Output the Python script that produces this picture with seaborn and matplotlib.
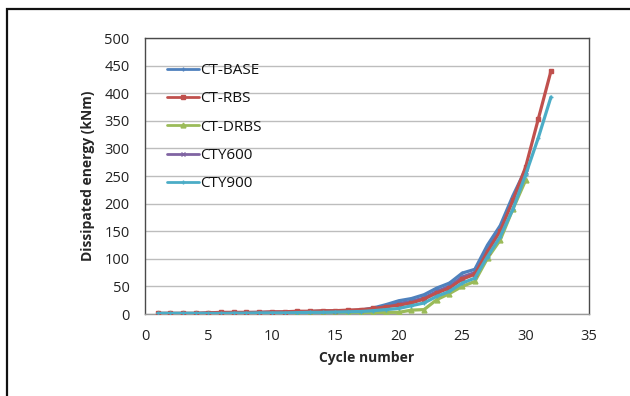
import numpy as np
import pandas as pd
import matplotlib
matplotlib.use("Agg")
import matplotlib.pyplot as plt
import seaborn as sns
from matplotlib.patches import Rectangle

cycles_long = list(range(1, 33))
cycles_short = list(range(1, 31))

ct_base = [1, 1, 1, 1, 1.5, 2, 2, 2.5, 3, 3, 3.5, 4, 4.5, 5, 5.5, 6, 7, 11, 17,
           24, 28, 35, 47, 56, 74, 81, 125, 160, 214, 262]
ct_rbs = [1, 1, 1, 1, 2, 3, 3, 3, 3, 4, 4, 5, 5, 6, 6, 7, 8, 10, 13,
          16, 20, 27, 38, 47, 63, 72, 113, 150, 206, 266, 353, 440]
ct_drbs = [1, 1, 1, 1, 1, 1, 1, 1, 1, 1, 1, 1.5, 1.5, 2, 2, 2, 2, 2.5, 3,
           3, 7, 8, 26, 37, 50, 59, 101, 134, 190, 242]
cty600 = [1, 1, 1, 1, 1.5, 2, 2, 2, 2.5, 3, 3, 3.5, 4, 4.5, 5, 5.5, 6, 9, 14,
          19, 23, 29, 41, 50, 67, 75, 116, 155, 208, 258]
cty900 = [1, 1, 1, 1, 1, 1, 1.5, 1.5, 2, 2, 2, 2.5, 3, 3, 3.5, 4, 4.5, 6, 8,
          10, 15, 20, 32, 41, 56, 65, 104, 140, 190, 252, 319, 393]

series_names = ["CT-BASE", "CT-RBS", "CT-DRBS", "CTY600", "CTY900"]
series_x = [cycles_short, cycles_long, cycles_short, cycles_short, cycles_long]
series_y = [ct_base, ct_rbs, ct_drbs, cty600, cty900]
colors = ["#4F81BD", "#C0504D", "#9BBB59", "#8064A2", "#4BACC6"]
markers = ["+", "s", "^", "x", "+"]
zorders = [4, 5, 3, 2, 6]

x_ticks = [0, 5, 10, 15, 20, 25, 30, 35]
y_ticks = [0, 50, 100, 150, 200, 250, 300, 350, 400, 450, 500]

sns.set_theme(style="white")
plt.rcParams['font.family'] = ['Open Sans', 'DejaVu Sans']

fig = plt.figure(figsize=(6.3, 3.96), dpi=100)
ax = fig.add_axes([145/630, 1-314/396, (589-145)/630, (314-38)/396])

for name, xs, ys, c, m, z in zip(series_names, series_x, series_y, colors, markers, zorders):
    df = pd.DataFrame({"x": xs, "y": ys})
    sns.lineplot(data=df, x="x", y="y", ax=ax, color=c, linewidth=2.3,
                 marker=m, markersize=3.5, markeredgewidth=1.0, markeredgecolor=c,
                 label=name, zorder=z)

ax.set_xlim(0, 35)
ax.set_ylim(0, 500)
ax.set_xticks(x_ticks)
ax.set_yticks(y_ticks)
ax.tick_params(axis='both', length=0, labelsize=10.5, colors='#222222')
ax.tick_params(axis='x', pad=11)
ax.tick_params(axis='y', pad=11)
ax.yaxis.grid(True, color='#BDBDBD', linewidth=1.0)
ax.xaxis.grid(False)
ax.set_axisbelow(True)
for s in ['top', 'right', 'left']:
    ax.spines[s].set_color('#4A4A4A')
    ax.spines[s].set_linewidth(1.0)
ax.spines['bottom'].set_color('#9A9A9A')
ax.spines['bottom'].set_linewidth(1.0)

ax.set_xlabel("Cycle number", fontsize=10, fontweight='bold', labelpad=5)
ax.set_ylabel("Dissipated energy (kNm)", fontsize=10, fontweight='bold', labelpad=7)

leg = ax.legend(loc='upper left', bbox_to_anchor=(167/630, 1-63/396),
                bbox_transform=fig.transFigure, frameon=False, fontsize=11,
                handlelength=2.1, handletextpad=0.05, labelspacing=0.87,
                borderpad=0, borderaxespad=0)
for t in leg.get_texts():
    t.set_color('#111111')
for h in leg.get_lines():
    h.set_linewidth(2.0)

# outer chart border (only top/left visible in the reference crop)
fig.patches.append(Rectangle((7/630, -0.1), 1.2, 1 - 9/396 + 0.1,
                             transform=fig.transFigure, fill=False,
                             edgecolor='#111111', linewidth=1.6, zorder=10))

fig.savefig("out.png", dpi=100)
